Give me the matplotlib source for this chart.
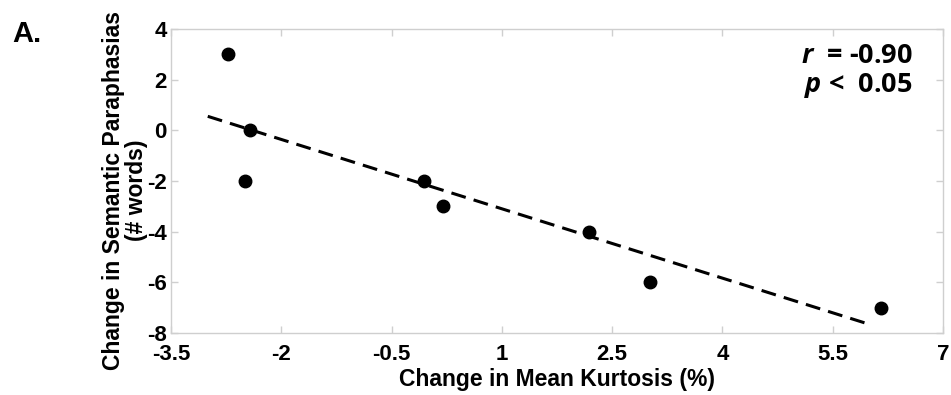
import numpy as np
import matplotlib
matplotlib.use("Agg")
import matplotlib.pyplot as plt

# values
kurtosis_change = [-2.72, -2.43, -2.50, -0.06, 0.20, 2.19, 3.02, 6.16]
paraphasia_change = [3, 0, -2, -2, -3, -4, -6, -7]
fit_range = [-3.0, 6.0]
x_ticks = [-3.5, -2, -0.5, 1, 2.5, 4, 5.5, 7]
y_ticks = [-8, -6, -4, -2, 0, 2, 4]
r_text = "-0.90"
p_text = "0.05"

plt.rcParams['font.family'] = ['Liberation Sans', 'DejaVu Sans']
plt.rcParams['font.weight'] = 'bold'
plt.rcParams['axes.unicode_minus'] = False
plt.rcParams['mathtext.fontset'] = 'custom'
plt.rcParams['mathtext.it'] = 'Open Sans:italic:bold'
plt.rcParams['mathtext.rm'] = 'Open Sans:bold'

fig = plt.figure(figsize=(9.51, 3.95), dpi=100)
ax = fig.add_axes([0.1798, 0.157, 0.8118, 0.7696])

ax.plot(kurtosis_change, paraphasia_change, 'o', color='black', ms=9)

# least-squares line
slope, intercept = np.polyfit(kurtosis_change, paraphasia_change, 1)
fx = np.array(fit_range)
ax.plot(fx, slope * fx + intercept, color='black', lw=2.2, dashes=(4.9, 2.7))

ax.set_xlim(-3.5, 7)
ax.set_ylim(-8, 4)
ax.set_xticks(x_ticks)
ax.set_xticklabels([f"{t:g}" for t in x_ticks])
ax.set_yticks(y_ticks)

gray = '#cfcfcf'
for s in ax.spines.values():
    s.set_color(gray)
    s.set_linewidth(1.0)
ax.tick_params(direction='in', length=5, color=gray, width=1.0,
               top=True, right=True, labelsize=16)
ax.tick_params(axis='x', pad=8)
ax.tick_params(axis='y', pad=3)

ax.set_xlabel('Change in Mean Kurtosis (%)', fontsize=16.5, fontweight='bold', labelpad=2)
ax.set_ylabel('Change in Semantic Paraphasias\n(# words)', fontsize=16.5,
              fontweight='bold', linespacing=1.0)
ax.yaxis.set_label_coords(-0.030, 0.47)

ax.text(0.961, 0.888, r'$\mathit{r}$  = ' + r_text, transform=ax.transAxes,
        ha='right', va='baseline', fontsize=19.5, family='Open Sans', fontweight='bold')
ax.text(0.961, 0.793, r'$\mathit{p}$ <  ' + p_text, transform=ax.transAxes,
        ha='right', va='baseline', fontsize=19.5, family='Open Sans', fontweight='bold')

fig.text(0.013, 0.894, 'A.', fontsize=21, fontweight='bold', va='baseline')

fig.savefig('out.png', dpi=100)
